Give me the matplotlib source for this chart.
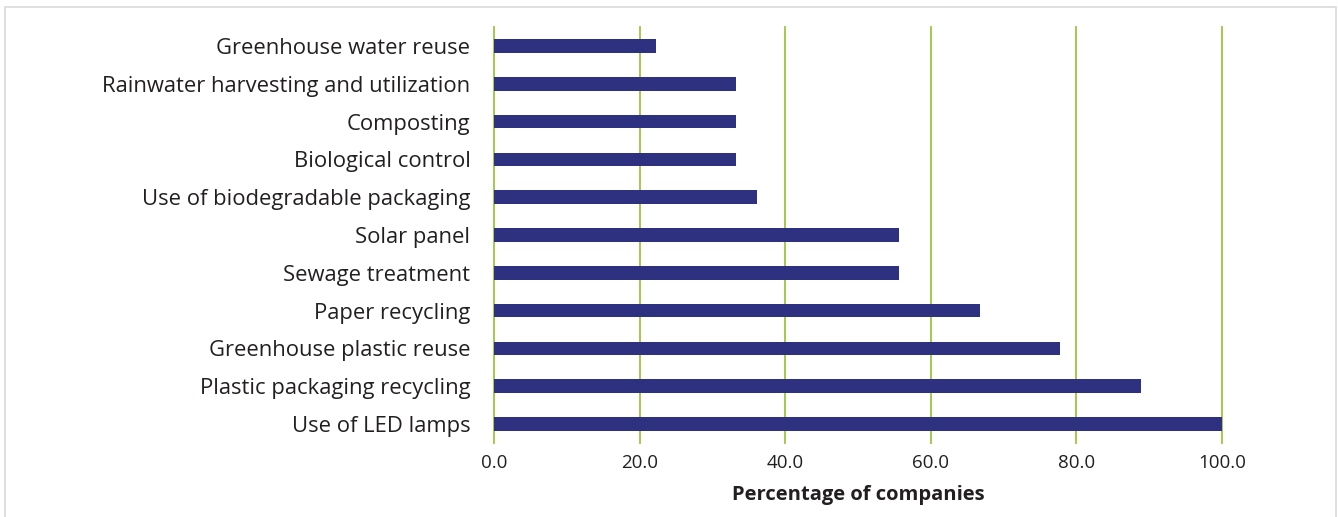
import matplotlib.pyplot as plt
from matplotlib.patches import Rectangle

categories = ["Greenhouse water reuse", "Rainwater harvesting and utilization",
              "Composting", "Biological control", "Use of biodegradable packaging",
              "Solar panel", "Sewage treatment", "Paper recycling",
              "Greenhouse plastic reuse", "Plastic packaging recycling", "Use of LED lamps"]
values = [22.2, 33.3, 33.3, 33.3, 36.1, 55.6, 55.6, 66.7, 77.8, 88.9, 100.0]
xticks = [0, 20, 40, 60, 80, 100]

plt.rcParams['font.family'] = ['Open Sans', 'DejaVu Sans']

fig = plt.figure(figsize=(13.38, 5.17), dpi=100)
ax = fig.add_axes([494 / 1338, 1 - 443 / 517, (1222 - 494) / 1338, (443 - 27) / 517])

ypos = list(range(len(categories)))
ax.barh(ypos, values, height=0.36, color='#2E3080', zorder=3)

ax.set_ylim(len(categories) - 0.5, -0.5)
ax.set_xlim(0, 100)
ax.set_yticks(ypos)
ax.set_yticklabels(categories, fontsize=15.8, color='#231F20')
ax.set_xticks(xticks)
ax.set_xticklabels(["%.1f" % t for t in xticks], fontsize=13.5, color='#231F20')
ax.tick_params(axis='y', length=0, pad=17)
ax.tick_params(axis='x', length=0, pad=8)

# green vertical gridlines, unclipped so the 100 line shows fully
for t in xticks:
    ax.axvline(t, color='#9BC53D', linewidth=1.3, zorder=1, clip_on=False)
for s in ax.spines.values():
    s.set_visible(False)

ax.set_xlabel("Percentage of companies", fontsize=14.5, fontweight='bold',
              color='#231F20', labelpad=9)

fig.patches.append(Rectangle((5 / 1338, -0.1), 1331 / 1338, 1.1 - 7 / 517,
                             transform=fig.transFigure, fill=False,
                             edgecolor='#d9d9d9', linewidth=1.2))

fig.savefig("out.png", dpi=100)
